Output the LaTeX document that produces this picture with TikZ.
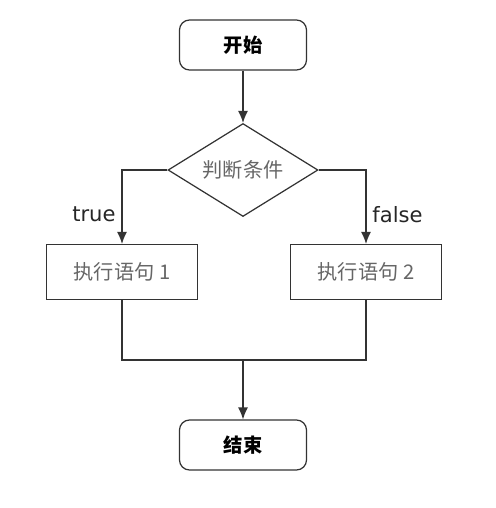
\documentclass[tikz,border=0pt]{standalone}
\usepackage{fontspec}
\setmainfont{DejaVu Sans}
\newfontfamily\cjk{Noto Sans CJK SC}
\usetikzlibrary{shapes.geometric, arrows.meta}

\begin{document}
\begin{tikzpicture}[
    x=0.02cm, y=-0.02cm,
    line width=0.7pt,
    terminal/.style={rectangle, rounded corners=0.2cm, draw=black!80, minimum width=2.54cm, minimum height=1cm, font=\cjk\bfseries\fontsize{11}{13}\selectfont},
    decision/.style={diamond, aspect=1.6, draw=black!80, inner sep=0pt, minimum width=3cm, minimum height=1.86cm, text=black!60, font=\cjk\fontsize{11.5}{13}\selectfont},
    process/.style={rectangle, draw=black!80, minimum width=3.02cm, minimum height=1.1cm, text=black!60, font=\cjk\fontsize{11.5}{13}\selectfont},
    arrow/.style={-{Latex[length=2.4mm, width=2mm]}, draw=black!80},
    line/.style={draw=black!80},
    branch/.style={font=\fontsize{12}{14}\selectfont, text=black!85}
]

% page frame
\useasboundingbox (0,0) rectangle (495,508);

% nodes
\node[terminal] (start) at (243,45) {开始};
\node[decision] (cond) at (243,170) {判断条件};
\node[process] (stmtA) at (122,272) {执行语句 1};
\node[process] (stmtB) at (366,272) {执行语句 2};
\node[terminal] (stop) at (243,445) {结束};
\coordinate (merge) at (243,360);

% connectors
\draw[arrow] (start) -- (cond);
\draw[arrow] (cond.west) -| node[pos=0.8, left, branch] {true} (stmtA);
\draw[arrow] (cond.east) -| node[pos=0.8, right, branch] {false} (stmtB);
\draw[line] (stmtA) |- (merge);
\draw[line] (stmtB) |- (merge);
\draw[arrow] (merge) -- (stop);

\end{tikzpicture}
\end{document}
